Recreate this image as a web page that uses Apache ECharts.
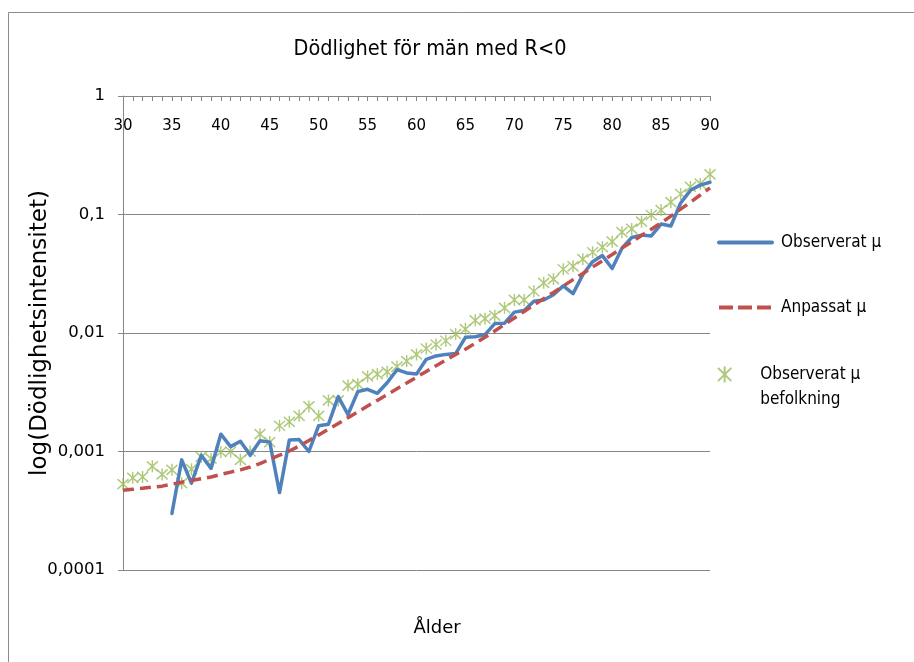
<!DOCTYPE html>
<html>
<head>
<meta charset="utf-8">
<title>Dödlighet för män med R&lt;0</title>
<script src="https://cdn.jsdelivr.net/npm/echarts@6/dist/echarts.min.js"></script>
<style>
  html, body { margin: 0; padding: 0; background: #ffffff; }
  #chart { width: 914px; height: 662px; }
</style>
</head>
<body>
<div id="chart"></div>
<script>
// Ages on the category axis
const ages = ['30','31','32','33','34','35','36','37','38','39',
              '40','41','42','43','44','45','46','47','48','49',
              '50','51','52','53','54','55','56','57','58','59',
              '60','61','62','63','64','65','66','67','68','69',
              '70','71','72','73','74','75','76','77','78','79',
              '80','81','82','83','84','85','86','87','88','89','90'];

// Observed mortality intensity for the group (no data before age 35)
const observed = [null, null, null, null, null,
  0.00030, 0.00085, 0.00054, 0.00093, 0.00072,
  0.00140, 0.00110, 0.00122, 0.00093, 0.00123,
  0.00120, 0.00045, 0.00125, 0.00126, 0.00100,
  0.00165, 0.00170, 0.00290, 0.00205, 0.00320,
  0.00335, 0.00310, 0.00380, 0.00490, 0.00460,
  0.00450, 0.00600, 0.00640, 0.00660, 0.00670,
  0.00920, 0.00930, 0.00970, 0.01200, 0.01210,
  0.01500, 0.01550, 0.01850, 0.01900, 0.02100,
  0.02500, 0.02150, 0.03100, 0.04000, 0.04500,
  0.03500, 0.05200, 0.06400, 0.06700, 0.06600,
  0.08300, 0.08000, 0.12500, 0.16000, 0.17700, 0.18700];

// Fitted mortality intensity
const fitted = [
  0.00047, 0.00048, 0.00049, 0.00050, 0.00051,
  0.00053, 0.00055, 0.00057, 0.00059, 0.00061,
  0.00064, 0.00067, 0.00070, 0.00074, 0.00079,
  0.00086, 0.00093, 0.00101, 0.00111, 0.00124,
  0.00138, 0.00154, 0.00172, 0.00193, 0.00216,
  0.00242, 0.00270, 0.00302, 0.00338, 0.00378,
  0.00424, 0.00474, 0.00530, 0.00590, 0.00660,
  0.00730, 0.00820, 0.00920, 0.01040, 0.01180,
  0.01340, 0.01520, 0.01720, 0.01950, 0.02200,
  0.02490, 0.02820, 0.03180, 0.03600, 0.04070,
  0.04600, 0.05200, 0.05880, 0.06650, 0.07500,
  0.08500, 0.09700, 0.11100, 0.12700, 0.14600, 0.16800];

// Observed mortality intensity for the whole population
const population = [
  0.00053, 0.00060, 0.00061, 0.00075, 0.00064,
  0.00070, 0.00054, 0.00071, 0.00090, 0.00087,
  0.00099, 0.00100, 0.00085, 0.00100, 0.00140,
  0.00120, 0.00165, 0.00178, 0.00200, 0.00240,
  0.00200, 0.00270, 0.00270, 0.00360, 0.00370,
  0.00430, 0.00450, 0.00470, 0.00520, 0.00580,
  0.00660, 0.00740, 0.00800, 0.00860, 0.00980,
  0.01080, 0.01280, 0.01320, 0.01400, 0.01630,
  0.01900, 0.01900, 0.02250, 0.02650, 0.02850,
  0.03450, 0.03650, 0.04200, 0.04800, 0.05300,
  0.05900, 0.07100, 0.07550, 0.08700, 0.09900,
  0.10900, 0.12700, 0.14900, 0.17100, 0.18200, 0.21800];

// Tick labels of the logarithmic axis, indexed by exponent + 4
const yTickLabels = ['0,0001', '0,001', '0,01', '0,1', '1'];

const seriesNames = ['Observerat µ', 'Anpassat µ', 'Observerat µ befolkning'];

const BLUE = '#4f81bd';
const RED = '#c0504d';
const GREEN = '#9bbb59';
const AXIS_GREY = '#868686';
const FONT = 'DejaVu Sans';
const NARROW = '"Liberation Sans Narrow", "DejaVu Sans Condensed", "DejaVu Sans"';

// Asterisk marker: two diagonals and a vertical stroke
const starMarker = 'path://M0,0L10,10M10,0L0,10M5,-1L5,11';

const chart = echarts.init(document.getElementById('chart'), null, { renderer: 'canvas' });

const legendText = { fontFamily: NARROW, fontSize: 17, color: '#000', padding: [0, 0, 0, 4] };
// Line legends show only the stroke, no point marker
const lineLegendItem = { opacity: 0 };

chart.setOption({
  backgroundColor: '#ffffff',
  animation: false,
  title: [
    {
      text: 'Dödlighet för män med R<0',
      left: 425, top: 33, textAlign: 'center',
      textStyle: { fontFamily: NARROW, fontSize: 21.5, fontWeight: 'normal', color: '#000' }
    },
    {
      text: 'Ålder',
      left: 432, top: 614, textAlign: 'center',
      textStyle: { fontFamily: FONT, fontSize: 18, fontWeight: 'normal', color: '#000' }
    }
  ],
  graphic: [
    {
      type: 'rect', silent: true, z: -1,
      shape: { x: 8.5, y: 12.5, width: 1000, height: 1000 },
      style: { fill: 'none', stroke: '#8c8c8c', lineWidth: 1 }
    }
  ],
  legend: [
    {
      data: [seriesNames[0]], orient: 'vertical', left: 712, top: 229,
      itemWidth: 53, itemHeight: 16, itemStyle: lineLegendItem,
      lineStyle: { width: 4 }, textStyle: legendText
    },
    {
      data: [seriesNames[1]], orient: 'vertical', left: 712, top: 294,
      itemWidth: 53, itemHeight: 16, itemStyle: lineLegendItem,
      lineStyle: { width: 4, type: [14, 5] }, textStyle: legendText
    },
    {
      data: [seriesNames[2]], orient: 'vertical', left: 712, top: 332,
      itemWidth: 53, itemHeight: 16,
      formatter: name => '\n' + name.replace(' befolkning', '\nbefolkning'),
      textStyle: Object.assign({}, legendText, { lineHeight: 25 })
    }
  ],
  grid: { left: 123, top: 96, width: 587, height: 474, containLabel: false },
  xAxis: {
    type: 'category',
    data: ages,
    position: 'top',
    boundaryGap: false,
    axisLine: { lineStyle: { color: AXIS_GREY, width: 1 } },
    axisTick: { inside: true, length: 5, interval: 0, lineStyle: { color: AXIS_GREY } },
    axisLabel: {
      inside: true, interval: 4, margin: 23,
      fontFamily: FONT, fontSize: 15, color: '#000'
    },
    splitLine: { show: false }
  },
  yAxis: {
    type: 'log',
    logBase: 10,
    min: 0.0001,
    max: 1,
    name: 'log(Dödlighetsintensitet)',
    nameLocation: 'middle',
    nameRotate: 90,
    nameGap: 71,
    nameMoveOverlap: false,
    nameTextStyle: { fontFamily: FONT, fontSize: 23, color: '#000' },
    axisLine: { show: true, lineStyle: { color: AXIS_GREY, width: 1 } },
    axisTick: { show: true, length: 5, lineStyle: { color: AXIS_GREY } },
    axisLabel: {
      margin: 18, fontFamily: FONT, fontSize: 16.5, color: '#000',
      formatter: v => yTickLabels[Math.round(Math.log10(v)) + 4]
    },
    splitLine: { show: true, lineStyle: { color: AXIS_GREY, width: 1 } }
  },
  series: [
    {
      name: seriesNames[0], type: 'line', data: observed,
      symbol: 'none', connectNulls: false,
      lineStyle: { color: BLUE, width: 3.5, cap: 'round', join: 'round' },
      itemStyle: { color: BLUE }
    },
    {
      name: seriesNames[1], type: 'line', data: fitted,
      symbol: 'none',
      lineStyle: { color: RED, width: 3.5, type: [11, 6], cap: 'butt' },
      itemStyle: { color: RED }
    },
    {
      name: seriesNames[2], type: 'scatter', data: population,
      symbol: starMarker, symbolSize: [11, 12],
      itemStyle: { color: 'rgba(0,0,0,0)', borderColor: GREEN, borderWidth: 1.5 }
    }
  ]
});
</script>
</body>
</html>
